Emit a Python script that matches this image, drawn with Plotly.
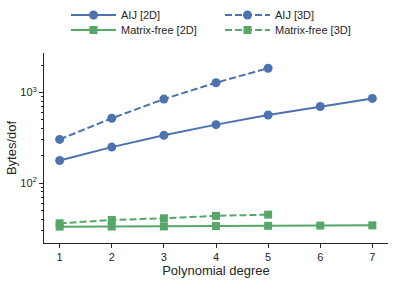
import plotly.graph_objects as go

degrees_2d = [1, 2, 3, 4, 5, 6, 7]
degrees_3d = [1, 2, 3, 4, 5]
aij_2d = [177, 249, 336, 441, 563, 699, 858]
aij_3d = [303, 518, 844, 1280, 1850]
mf_2d = [33.0, 33.1, 33.2, 33.5, 33.7, 33.9, 34.1]
mf_3d = [35.9, 39.1, 40.8, 43.4, 44.8]

y_major = [100, 1000]
y_major_text = ["10<sup>2</sup>", "10<sup>3</sup>"]
y_minor = [30, 40, 50, 60, 70, 80, 90, 200, 300, 400, 500, 600, 700, 800, 900, 2000]

BLUE = "#4C72B0"
GREEN = "#55A868"
INK = "#262626"
FONT = "Liberation Sans, Arial, sans-serif"

fig = go.Figure()
fig.add_trace(go.Scatter(x=degrees_2d, y=aij_2d, name="AIJ [2D]", mode="lines+markers",
                         line=dict(color=BLUE, width=2), legend="legend",
                         marker=dict(symbol="circle", size=9, color=BLUE)))
fig.add_trace(go.Scatter(x=degrees_3d, y=aij_3d, name="AIJ [3D]", mode="lines+markers",
                         line=dict(color=BLUE, width=2, dash="7px,3px"), legend="legend",
                         marker=dict(symbol="circle", size=9, color=BLUE)))
fig.add_trace(go.Scatter(x=degrees_2d, y=mf_2d, name="Matrix-free [2D]", mode="lines+markers",
                         line=dict(color=GREEN, width=2), legend="legend2",
                         marker=dict(symbol="square", size=8, color=GREEN)))
fig.add_trace(go.Scatter(x=degrees_3d, y=mf_3d, name="Matrix-free [3D]", mode="lines+markers",
                         line=dict(color=GREEN, width=2, dash="7px,3px"), legend="legend2",
                         marker=dict(symbol="square", size=8, color=GREEN)))

legend_common = dict(orientation="h", xref="container", yref="container",
                     x=66 / 398, xanchor="left", yanchor="middle",
                     entrywidth=94, entrywidthmode="pixels", itemwidth=45,
                     font=dict(family=FONT, size=11, color=INK),
                     bgcolor="rgba(0,0,0,0)", traceorder="normal")

fig.update_layout(
    width=398, height=281,
    margin=dict(l=44, r=10, t=53, b=38),
    paper_bgcolor="white", plot_bgcolor="white",
    font=dict(family=FONT, size=11, color=INK),
    showlegend=True,
    legend=dict(legend_common, y=1 - 15 / 281),
    legend2=dict(legend_common, y=1 - 30 / 281),
    xaxis=dict(range=[0.7, 7.3], tickvals=degrees_2d, ticks="outside", ticklen=4,
               tickwidth=1, tickcolor=INK, showline=True, linecolor=INK, linewidth=1,
               showgrid=False, zeroline=False, automargin=False,
               title=dict(text="Polynomial degree", standoff=0),
               tickfont=dict(size=11)),
    yaxis=dict(type="log", range=[1.338, 3.435], tickmode="array", tickvals=y_major,
               ticktext=y_major_text, ticks="outside", ticklen=4, tickwidth=1, tickcolor=INK,
               showline=True, linecolor=INK, linewidth=1, showgrid=False, zeroline=False,
               automargin=False,
               minor=dict(tickmode="array", tickvals=y_minor, ticks="outside", ticklen=2,
                          tickwidth=1, tickcolor=INK, showgrid=False),
               title=dict(text="Bytes/dof", standoff=0), tickfont=dict(size=11)),
)

fig.write_html("out.html", config={"displayModeBar": False},
               post_script="document.body.style.margin='0';")
